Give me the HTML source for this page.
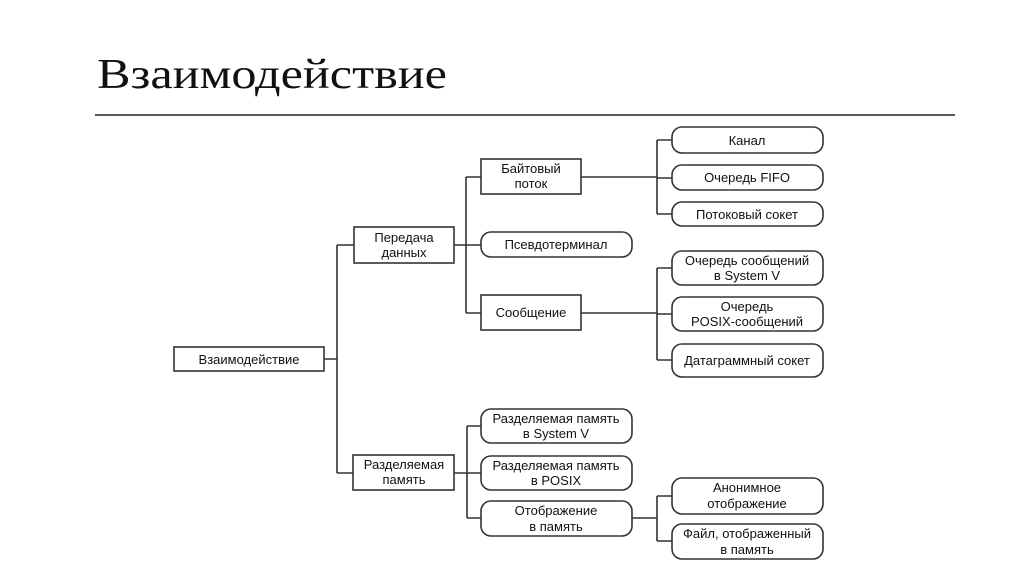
<!DOCTYPE html>
<html><head><meta charset="utf-8"><style>
html,body{margin:0;padding:0;background:#fff;}
svg{display:block;}
.b{fill:#fff;stroke:#333;stroke-width:1.6;}
.l{stroke:#333;stroke-width:1.6;fill:none;}
text.t{font-family:"Liberation Sans",sans-serif;font-size:13px;fill:#111;text-anchor:middle;}
</style></head><body>
<svg width="1024" height="574" viewBox="0 0 1024 574">
<text x="97" y="88" font-family="Liberation Serif, serif" font-size="42" fill="#111" textLength="350" lengthAdjust="spacingAndGlyphs">Взаимодействие</text>
<line x1="95" y1="115" x2="955" y2="115" stroke="#222" stroke-width="1.5"/>
<!-- connectors -->
<path class="l" d="M324 359H337M337 245V473M337 245H354M337 473H353"/>
<path class="l" d="M454 245H481M466 177V313M466 177H481M466 313H481"/>
<path class="l" d="M581 177H657M657 140V214M657 140H672M657 178H672M657 214H672"/>
<path class="l" d="M581 313H657M657 268V360M657 268H672M657 314H672M657 360H672"/>
<path class="l" d="M454 473H481M467 426V518M467 426H481M467 518H481"/>
<path class="l" d="M632 518H657M657 496V541M657 496H672M657 541H672"/>
<!-- boxes -->
<rect class="b" x="174" y="347" width="150" height="24"/>
<text class="t" x="249" y="364">Взаимодействие</text>
<rect class="b" x="354" y="227" width="100" height="36"/>
<text class="t" x="404" y="242">Передача</text><text class="t" x="404" y="257">данных</text>
<rect class="b" x="353" y="455" width="101" height="35"/>
<text class="t" x="404" y="469">Разделяемая</text><text class="t" x="404" y="484">память</text>
<rect class="b" x="481" y="159" width="100" height="35"/>
<text class="t" x="531" y="173">Байтовый</text><text class="t" x="531" y="188">поток</text>
<rect class="b" x="481" y="232" width="151" height="25" rx="10"/>
<text class="t" x="556" y="249">Псевдотерминал</text>
<rect class="b" x="481" y="295" width="100" height="35"/>
<text class="t" x="531" y="317">Сообщение</text>
<rect class="b" x="481" y="409" width="151" height="34" rx="10"/>
<text class="t" x="556" y="423">Разделяемая память</text><text class="t" x="556" y="438">в System V</text>
<rect class="b" x="481" y="456" width="151" height="34" rx="10"/>
<text class="t" x="556" y="470">Разделяемая память</text><text class="t" x="556" y="485">в POSIX</text>
<rect class="b" x="481" y="501" width="151" height="35" rx="10"/>
<text class="t" x="556" y="515">Отображение</text><text class="t" x="556" y="531">в память</text>
<rect class="b" x="672" y="127" width="151" height="26" rx="10"/>
<text class="t" x="747" y="145">Канал</text>
<rect class="b" x="672" y="165" width="151" height="25" rx="10"/>
<text class="t" x="747" y="182">Очередь FIFO</text>
<rect class="b" x="672" y="202" width="151" height="24" rx="10"/>
<text class="t" x="747" y="219">Потоковый сокет</text>
<rect class="b" x="672" y="251" width="151" height="34" rx="10"/>
<text class="t" x="747" y="265">Очередь сообщений</text><text class="t" x="747" y="280">в System V</text>
<rect class="b" x="672" y="297" width="151" height="34" rx="10"/>
<text class="t" x="747" y="311">Очередь</text><text class="t" x="747" y="326">POSIX-сообщений</text>
<rect class="b" x="672" y="344" width="151" height="33" rx="10"/>
<text class="t" x="747" y="365">Датаграммный сокет</text>
<rect class="b" x="672" y="478" width="151" height="36" rx="10"/>
<text class="t" x="747" y="492">Анонимное</text><text class="t" x="747" y="508">отображение</text>
<rect class="b" x="672" y="524" width="151" height="35" rx="10"/>
<text class="t" x="747" y="538">Файл, отображенный</text><text class="t" x="747" y="554">в память</text>
</svg>
</body></html>
